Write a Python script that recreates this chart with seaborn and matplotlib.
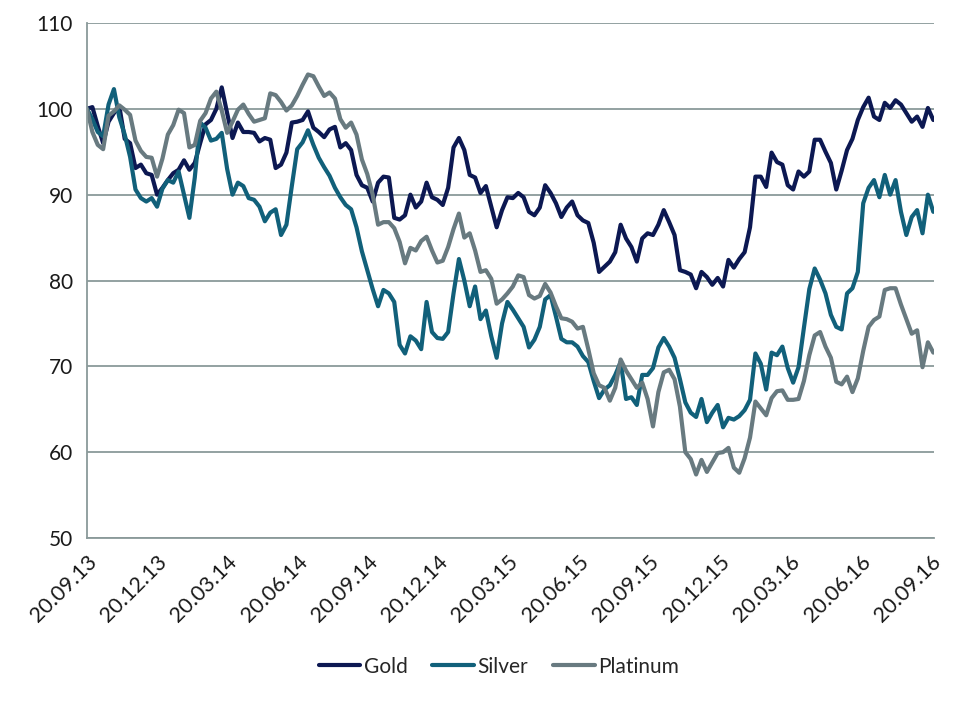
import matplotlib
matplotlib.use("Agg")
import matplotlib.pyplot as plt
import matplotlib.dates as mdates
import pandas as pd
import seaborn as sns

# weekly index values (20.09.13 = 100)
gold = [100.0, 100.2, 98.0, 96.0, 98.5, 99.5, 100.3, 96.5, 96.0, 93.1,
        93.5, 92.5, 92.3, 90.0, 90.8, 91.7, 92.5, 92.9, 94.0, 92.9,
        93.7, 96.0, 98.2, 98.7, 100.0, 102.5, 99.5, 96.6, 98.4, 97.3,
        97.3, 97.2, 96.2, 96.6, 96.4, 93.1, 93.5, 94.9, 98.4, 98.5,
        98.7, 99.7, 97.8, 97.3, 96.7, 97.6, 97.9, 95.5, 96.0, 95.2,
        92.3, 91.1, 90.8, 89.2, 91.4, 92.1, 92.0, 87.3, 87.1, 87.6,
        90.0, 88.5, 89.2, 91.4, 89.7, 89.4, 88.8, 90.8, 95.5, 96.6,
        95.2, 92.3, 92.0, 90.2, 91.0, 88.6, 86.2, 88.2, 89.7, 89.6,
        90.2, 89.7, 88.0, 87.6, 88.5, 91.1, 90.2, 89.0, 87.4, 88.5,
        89.2, 87.6, 87.0, 86.7, 84.4, 81.0, 81.6, 82.2, 83.3, 86.5,
        84.9, 83.9, 82.2, 84.9, 85.5, 85.3, 86.5, 88.2, 86.8, 85.3,
        81.2, 81.0, 80.7, 79.1, 81.0, 80.4, 79.5, 80.3, 79.3, 82.4,
        81.5, 82.5, 83.3, 86.2, 92.1, 92.1, 90.9, 94.9, 93.8, 93.5,
        91.1, 90.6, 92.7, 92.1, 92.7, 96.4, 96.4, 95.0, 93.7, 90.6,
        92.8, 95.2, 96.5, 98.7, 100.2, 101.3, 99.1, 98.7, 100.7, 100.1,
        101.0, 100.5, 99.5, 98.5, 99.1, 97.9, 100.1, 98.7]

silver = [100.0, 98.8, 97.3, 96.8, 100.5, 102.3, 99.0, 97.0, 94.4, 90.6,
          89.6, 89.2, 89.6, 88.6, 90.7, 91.7, 91.4, 92.7, 90.0, 87.3,
          92.0, 98.4, 97.8, 96.3, 96.5, 97.2, 93.0, 90.0, 91.4, 91.0,
          89.6, 89.4, 88.6, 86.9, 87.9, 88.3, 85.3, 86.5, 91.0, 95.3,
          96.1, 97.5, 95.8, 94.3, 93.2, 92.2, 90.8, 89.7, 88.8, 88.3,
          86.2, 83.4, 81.2, 79.0, 77.0, 78.9, 78.5, 77.5, 72.5, 71.5,
          73.5, 73.0, 72.0, 77.5, 74.0, 73.3, 73.2, 74.0, 78.5, 82.5,
          80.0, 77.0, 79.3, 75.5, 76.5, 73.5, 71.0, 75.0, 77.5, 76.6,
          75.6, 74.6, 72.2, 73.1, 74.6, 77.8, 78.3, 75.8, 73.2, 72.8,
          72.8, 72.3, 71.2, 70.5, 68.3, 66.3, 67.3, 67.8, 69.0, 70.5,
          66.2, 66.4, 65.5, 69.0, 69.0, 69.8, 72.2, 73.3, 72.3, 71.0,
          68.5, 65.8, 64.6, 64.1, 66.2, 63.5, 64.6, 65.5, 62.9, 64.0,
          63.8, 64.2, 64.9, 66.1, 71.5, 70.3, 67.3, 71.6, 71.3, 72.3,
          69.8, 68.1, 69.9, 74.5, 79.0, 81.4, 80.1, 78.5, 76.0, 74.6,
          74.3, 78.5, 79.1, 81.0, 89.0, 90.8, 91.7, 89.7, 92.3, 90.0,
          91.7, 88.0, 85.3, 87.4, 88.2, 85.5, 90.0, 88.0]

platinum = [100.0, 97.3, 95.8, 95.3, 99.2, 99.7, 100.4, 99.9, 99.3, 96.3,
            95.1, 94.4, 94.3, 92.1, 94.2, 97.0, 98.1, 99.9, 99.5, 95.5,
            95.8, 98.6, 99.5, 101.2, 102.0, 99.8, 97.2, 98.5, 99.9, 100.5,
            99.4, 98.5, 98.7, 98.9, 101.8, 101.6, 100.8, 99.8, 100.4, 101.5,
            102.8, 104.0, 103.8, 102.6, 101.5, 101.9, 101.2, 98.8, 97.8, 98.4,
            97.0, 94.1, 92.4, 90.0, 86.5, 86.8, 86.8, 86.1, 84.5, 82.0,
            83.8, 83.5, 84.6, 85.1, 83.5, 82.1, 82.3, 83.9, 86.0, 87.8,
            85.0, 85.5, 83.5, 81.0, 81.2, 80.2, 77.3, 77.8, 78.5, 79.3,
            80.6, 80.4, 78.3, 77.9, 78.2, 79.6, 78.6, 77.0, 75.6, 75.5,
            75.2, 74.4, 74.6, 72.0, 69.2, 67.8, 67.5, 66.0, 67.5, 70.8,
            69.5, 68.5, 67.5, 68.1, 66.2, 63.0, 67.0, 69.3, 69.6, 68.5,
            65.3, 60.0, 59.2, 57.4, 59.1, 57.7, 58.8, 59.9, 60.0, 60.5,
            58.2, 57.6, 59.3, 61.7, 65.9, 65.1, 64.3, 66.3, 67.1, 67.2,
            66.1, 66.1, 66.2, 68.3, 71.3, 73.6, 74.0, 72.3, 71.0, 68.2,
            67.9, 68.8, 67.0, 68.6, 71.8, 74.6, 75.4, 75.8, 78.9, 79.1,
            79.1, 77.2, 75.5, 73.8, 74.2, 69.9, 72.8, 71.6]

dates = pd.date_range("2013-09-20", periods=len(gold), freq="7D")
tick_dates = pd.to_datetime(["2013-09-20", "2013-12-20", "2014-03-20", "2014-06-20",
                             "2014-09-20", "2014-12-20", "2015-03-20", "2015-06-20",
                             "2015-09-20", "2015-12-20", "2016-03-20", "2016-06-20",
                             "2016-09-20"])

df = pd.DataFrame({"date": dates, "Gold": gold, "Silver": silver, "Platinum": platinum})
long_df = df.melt(id_vars="date", var_name="metal", value_name="index")

colors = {"Gold": "#0c1852", "Silver": "#11607a", "Platinum": "#687a80"}
grid_col = "#8a9a9a"

sns.set_style("white")
plt.rcParams["font.family"] = ["Lato", "DejaVu Sans"]

fig = plt.figure(figsize=(9.74, 7.01), dpi=100)
ax = fig.add_axes([0.0893, 0.2325, 0.8697, 0.7347])

sns.lineplot(data=long_df, x="date", y="index", hue="metal", palette=colors,
             linewidth=3.0, ax=ax)

ax.set_ylim(50, 110)
ax.set_yticks(range(50, 111, 10))
ax.set_xlim(dates[0], dates[-1] + pd.Timedelta(days=1))
ax.set_xticks(tick_dates)
ax.xaxis.set_major_formatter(mdates.DateFormatter("%d.%m.%y"))
ax.set_xlabel("")
ax.set_ylabel("")

ax.grid(axis="y", color=grid_col, linewidth=1.3)
ax.set_axisbelow(True)
for side in ["top", "right"]:
    ax.spines[side].set_visible(False)
for side in ["left", "bottom"]:
    ax.spines[side].set_color(grid_col)
    ax.spines[side].set_linewidth(1.3)

ax.tick_params(axis="x", direction="out", length=6, width=1.3, color=grid_col,
               labelsize=15.5, labelcolor="#1a1a1a", pad=4)
ax.tick_params(axis="y", direction="out", length=5, width=1.3, color=grid_col,
               labelsize=15, labelcolor="#1a1a1a", pad=5)
plt.setp(ax.get_xticklabels(), rotation=45, ha="right", rotation_mode="anchor")

ax.legend(loc="center", bbox_to_anchor=(0.512, 0.049), bbox_transform=fig.transFigure,
          ncol=3, frameon=False, fontsize=15, handlelength=2.0, handletextpad=0.15,
          columnspacing=1.2)

fig.savefig("out.png", dpi=100)
